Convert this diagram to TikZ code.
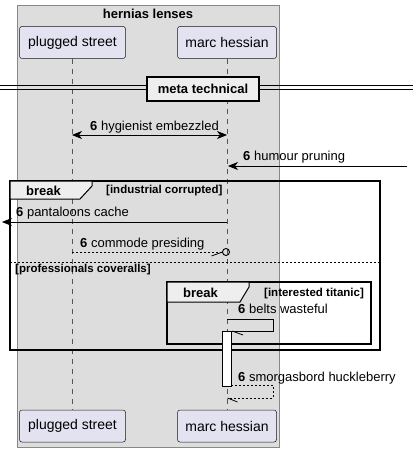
\documentclass[tikz,border=0pt]{standalone}
\usepackage{fontspec}
\setmainfont{Liberation Sans}
\usetikzlibrary{arrows.meta}

\definecolor{boxgray}{HTML}{DDDDDD}
\definecolor{boxline}{HTML}{888888}
\definecolor{partfill}{HTML}{E2E2F0}
\definecolor{partline}{HTML}{181818}
\definecolor{tabfill}{HTML}{EEEEEE}
\definecolor{lifegray}{HTML}{555555}

\tikzset{
  msgtip/.tip={Stealth[length=10pt,width=8pt,inset=3pt]},
  part/.style={draw=partline, fill=partfill, rounded corners=2.5pt, minimum height=32pt,
    inner sep=0pt, line width=0.5pt, font=\fontsize{14}{16}\selectfont},
  life/.style={draw=lifegray, line width=0.5pt, dash pattern=on 5pt off 5pt},
  msg/.style={line width=0.8pt, -msgtip},
  lbl/.style={anchor=base west, inner sep=0pt, font=\fontsize{13}{15}\selectfont},
  frame/.style={draw, line width=1.5pt},
  tab/.style={draw, fill=tabfill, line width=1pt},
  cond/.style={anchor=base west, inner sep=0pt, font=\fontsize{11.5}{13}\selectfont\bfseries},
}

\begin{document}
\begin{tikzpicture}[x=1pt,y=-1pt]
\useasboundingbox (0,0) rectangle (413,452);
% box of participants
\draw[boxline, fill=boxgray, line width=0.5pt] (17,5) rectangle (279,447);
\node[anchor=base, inner sep=0pt, font=\fontsize{13}{15}\selectfont\bfseries] (grp) at (148,19) {hernias lenses};

\foreach \y/\s in {42.5/t,426/b}{
  \node[part, minimum width=106pt] (ps\s) at (72.5,\y) {plugged street};
  \node[part, minimum width=99pt] (mh\s) at (227,\y) {marc hessian};
}
\draw[life] (pst) -- (psb);
\draw[life] (mht) -- (mhb);

% divider
\coordinate (dl) at (0,87);
\coordinate (dr) at (413,87);
\node[draw, line width=1.5pt, fill=tabfill, minimum width=112pt, minimum height=24pt, inner sep=0pt,
  font=\fontsize{13}{15}\selectfont\bfseries] (div) at (203,89) {meta technical};
\draw[line width=0.8pt] ([yshift=2pt]dl) -- ([yshift=2pt]dl -| div.west);
\draw[line width=0.8pt] ([yshift=-2pt]dl) -- ([yshift=-2pt]dl -| div.west);
\draw[line width=0.8pt] ([yshift=2pt]div.east |- dr) -- ([yshift=2pt]dr);
\draw[line width=0.8pt] ([yshift=-2pt]div.east |- dr) -- ([yshift=-2pt]dr);

% messages
\coordinate (a1) at (72,135);
\coordinate (b1) at (227,135);
\draw[msg, msgtip-msgtip] (a1) -- (b1);
\node[lbl] (l1) at (90,130.5) {\textbf{6} hygienist embezzled};

\coordinate (a2) at (407,166);
\coordinate (b2) at (228,166);
\draw[msg] (a2) -- (b2);
\node[lbl] (l2) at (243,160.5) {\textbf{6} humour pruning};

% outer break
\draw[frame] (10,181) rectangle (380,350);
\draw[tab] (10,181) -- (92,181) -- (92,186) -- (80,199) -- (10,199) -- cycle;
\node[anchor=base west, inner sep=0pt, font=\fontsize{13}{15}\selectfont\bfseries] (brk1) at (26,195) {break};
\node[cond] (c1) at (106,193) {[industrial corrupted]};

\coordinate (a3) at (227,222);
\coordinate (b3) at (2,222);
\draw[msg] (a3) -- (b3);
\node[lbl] (l3) at (16,216) {\textbf{6} pantaloons cache};

\coordinate (a4) at (72,252);
\coordinate (b4) at (222.5,252);
\draw[line width=0.6pt, dash pattern=on 2pt off 2pt] (a4) -- (b4);
\draw[line width=0.8pt] (b4) -- +(-11,4);
\draw[line width=0.9pt] (226,252) circle (3.5pt);
\node[lbl] (l4) at (80,247) {\textbf{6} commode presiding};

\draw[line width=0.6pt, dash pattern=on 2pt off 2pt] (10,262) -- (380,262);
\node[cond] (c2) at (15,272) {[professionals coveralls]};

% inner break
\draw[frame] (167,282) rectangle (371,344);
\draw[tab] (167,282) -- (249,282) -- (249,287) -- (240,302) -- (167,302) -- cycle;
\node[anchor=base west, inner sep=0pt, font=\fontsize{13}{15}\selectfont\bfseries] (brk2) at (183,297) {break};
\node[cond] (c3) at (264,296) {[interested titanic]};

\coordinate (a5) at (227,319);
\coordinate (b5) at (232,331);
\draw[line width=0.8pt] (a5) -- (273,319) -- (273,331) -- (b5);
\draw[line width=0.8pt] (b5) -- +(11,4);
\node[lbl] (l5) at (238,313) {\textbf{6} belts wasteful};

% activation
\draw[line width=0.8pt, fill=white] (222,331) rectangle (231,386);

\coordinate (a6) at (231,385);
\coordinate (b6) at (227.5,398);
\draw[line width=0.6pt, dash pattern=on 2pt off 2pt] (a6) -- (273,385) -- (273,398) -- (b6);
\draw[line width=0.8pt] (b6) -- +(10,4);
\node[lbl] (l6) at (238,381) {\textbf{6} smorgasbord huckleberry};
\end{tikzpicture}
\end{document}
